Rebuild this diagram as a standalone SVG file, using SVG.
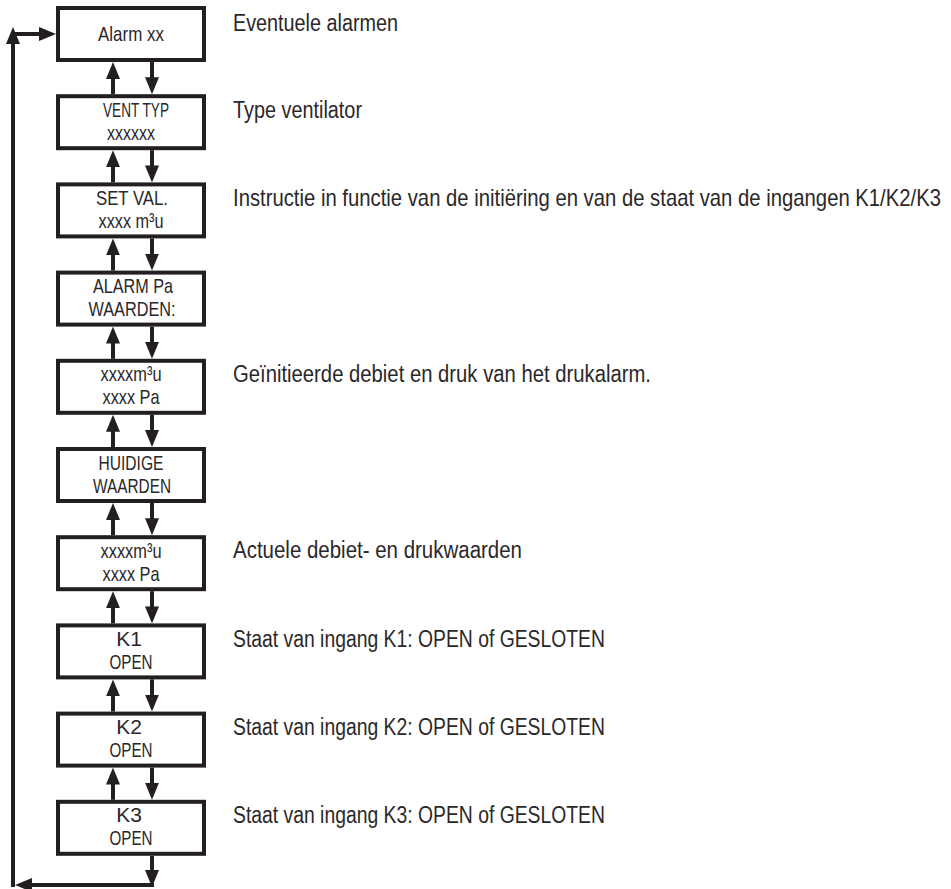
<svg xmlns="http://www.w3.org/2000/svg" width="951" height="889" viewBox="0 0 951 889">
<style>
.box{fill:#fff;stroke:#231f20;stroke-width:4}
.bt{font-family:"Liberation Sans",Arial,sans-serif;font-size:21px;fill:#2b2829;text-anchor:middle}
.rt{font-family:"Liberation Sans",Arial,sans-serif;font-size:23px;fill:#2b2829}
.ar{fill:none;stroke:#231f20;stroke-width:4;marker-end:url(#ah)}
</style>
<defs>
<marker id="ah" markerUnits="userSpaceOnUse" markerWidth="17" markerHeight="14" refX="7" refY="7" orient="auto" viewBox="0 0 17 14">
<path d="M0,0 L17,7 L0,14 z" fill="#231f20"/>
</marker>
</defs>
<rect width="951" height="889" fill="#fff"/>

<g id="connectors">
<line class="ar" x1="113" y1="94.2" x2="113" y2="72"/>
<line class="ar" x1="152" y1="62" x2="152" y2="84.2"/>
<line class="ar" x1="113" y1="182.4" x2="113" y2="160.2"/>
<line class="ar" x1="152" y1="150.2" x2="152" y2="172.4"/>
<line class="ar" x1="113" y1="270.6" x2="113" y2="248.4"/>
<line class="ar" x1="152" y1="238.4" x2="152" y2="260.6"/>
<line class="ar" x1="113" y1="358.8" x2="113" y2="336.6"/>
<line class="ar" x1="152" y1="326.6" x2="152" y2="348.8"/>
<line class="ar" x1="113" y1="447" x2="113" y2="424.8"/>
<line class="ar" x1="152" y1="414.8" x2="152" y2="437"/>
<line class="ar" x1="113" y1="535.2" x2="113" y2="513"/>
<line class="ar" x1="152" y1="503" x2="152" y2="525.2"/>
<line class="ar" x1="113" y1="623.4" x2="113" y2="601.2"/>
<line class="ar" x1="152" y1="591.2" x2="152" y2="613.4"/>
<line class="ar" x1="113" y1="711.6" x2="113" y2="689.4"/>
<line class="ar" x1="152" y1="679.4" x2="152" y2="701.6"/>
<line class="ar" x1="113" y1="799.8" x2="113" y2="777.6"/>
<line class="ar" x1="152" y1="767.6" x2="152" y2="789.8"/>
<line class="ar" x1="152" y1="855.8" x2="152" y2="877"/>
<line class="ar" x1="154" y1="885" x2="25" y2="885"/>
<line class="ar" x1="13" y1="887" x2="13" y2="37"/>
<line class="ar" x1="11" y1="34" x2="46" y2="34"/>
</g>

<g id="n0"><rect class="box" x="58" y="8" width="146" height="52"/>
<text class="bt" x="131" y="41" textLength="66" lengthAdjust="spacingAndGlyphs">Alarm xx</text></g>
<g id="n1"><rect class="box" x="58" y="96.2" width="146" height="52"/>
<text class="bt" x="136" y="117" textLength="66" lengthAdjust="spacingAndGlyphs">VENT TYP</text>
<text class="bt" x="131" y="140" textLength="48" lengthAdjust="spacingAndGlyphs">xxxxxx</text></g>
<g id="n2"><rect class="box" x="58" y="184.4" width="146" height="52"/>
<text class="bt" x="132" y="205" textLength="72" lengthAdjust="spacingAndGlyphs">SET VAL.</text>
<text class="bt" x="131" y="228" textLength="65" lengthAdjust="spacingAndGlyphs">xxxx m³u</text></g>
<g id="n3"><rect class="box" x="58" y="272.6" width="146" height="52"/>
<text class="bt" x="133" y="293" textLength="80" lengthAdjust="spacingAndGlyphs">ALARM Pa</text>
<text class="bt" x="132" y="316" textLength="87" lengthAdjust="spacingAndGlyphs">WAARDEN:</text></g>
<g id="n4"><rect class="box" x="58" y="360.8" width="146" height="52"/>
<text class="bt" x="131" y="381" textLength="61" lengthAdjust="spacingAndGlyphs">xxxxm³u</text>
<text class="bt" x="131" y="404" textLength="57" lengthAdjust="spacingAndGlyphs">xxxx Pa</text></g>
<g id="n5"><rect class="box" x="58" y="449" width="146" height="52"/>
<text class="bt" x="131" y="469.5" textLength="65" lengthAdjust="spacingAndGlyphs">HUIDIGE</text>
<text class="bt" x="132" y="492.5" textLength="78" lengthAdjust="spacingAndGlyphs">WAARDEN</text></g>
<g id="n6"><rect class="box" x="58" y="537.2" width="146" height="52"/>
<text class="bt" x="131" y="557.5" textLength="61" lengthAdjust="spacingAndGlyphs">xxxxm³u</text>
<text class="bt" x="131" y="580.5" textLength="57" lengthAdjust="spacingAndGlyphs">xxxx Pa</text></g>
<g id="n7"><rect class="box" x="58" y="625.4" width="146" height="52"/>
<text class="bt" x="129" y="645.5">K1</text>
<text class="bt" x="131" y="668.5" textLength="43" lengthAdjust="spacingAndGlyphs">OPEN</text></g>
<g id="n8"><rect class="box" x="58" y="713.6" width="146" height="52"/>
<text class="bt" x="129" y="733.5">K2</text>
<text class="bt" x="131" y="756.5" textLength="43" lengthAdjust="spacingAndGlyphs">OPEN</text></g>
<g id="n9"><rect class="box" x="58" y="801.8" width="146" height="52"/>
<text class="bt" x="129" y="822">K3</text>
<text class="bt" x="131" y="845" textLength="43" lengthAdjust="spacingAndGlyphs">OPEN</text></g>

<g id="labels">
<text class="rt" x="233" y="31" textLength="165" lengthAdjust="spacingAndGlyphs">Eventuele alarmen</text>
<text class="rt" x="233" y="118" textLength="129" lengthAdjust="spacingAndGlyphs">Type ventilator</text>
<text class="rt" transform="translate(233,206) scale(0.8,1)" x="0" y="0" textLength="885" lengthAdjust="spacingAndGlyphs">Instructie in functie van de initiëring en van de staat van de ingangen K1/K2/K3</text>
<text class="rt" x="233" y="382" textLength="418" lengthAdjust="spacingAndGlyphs">Geïnitieerde debiet en druk van het drukalarm.</text>
<text class="rt" x="233" y="558" textLength="289" lengthAdjust="spacingAndGlyphs">Actuele debiet- en drukwaarden</text>
<text class="rt" x="233" y="647" textLength="372" lengthAdjust="spacingAndGlyphs">Staat van ingang K1: OPEN of GESLOTEN</text>
<text class="rt" x="233" y="735" textLength="372" lengthAdjust="spacingAndGlyphs">Staat van ingang K2: OPEN of GESLOTEN</text>
<text class="rt" x="233" y="823" textLength="372" lengthAdjust="spacingAndGlyphs">Staat van ingang K3: OPEN of GESLOTEN</text>
</g>
</svg>
